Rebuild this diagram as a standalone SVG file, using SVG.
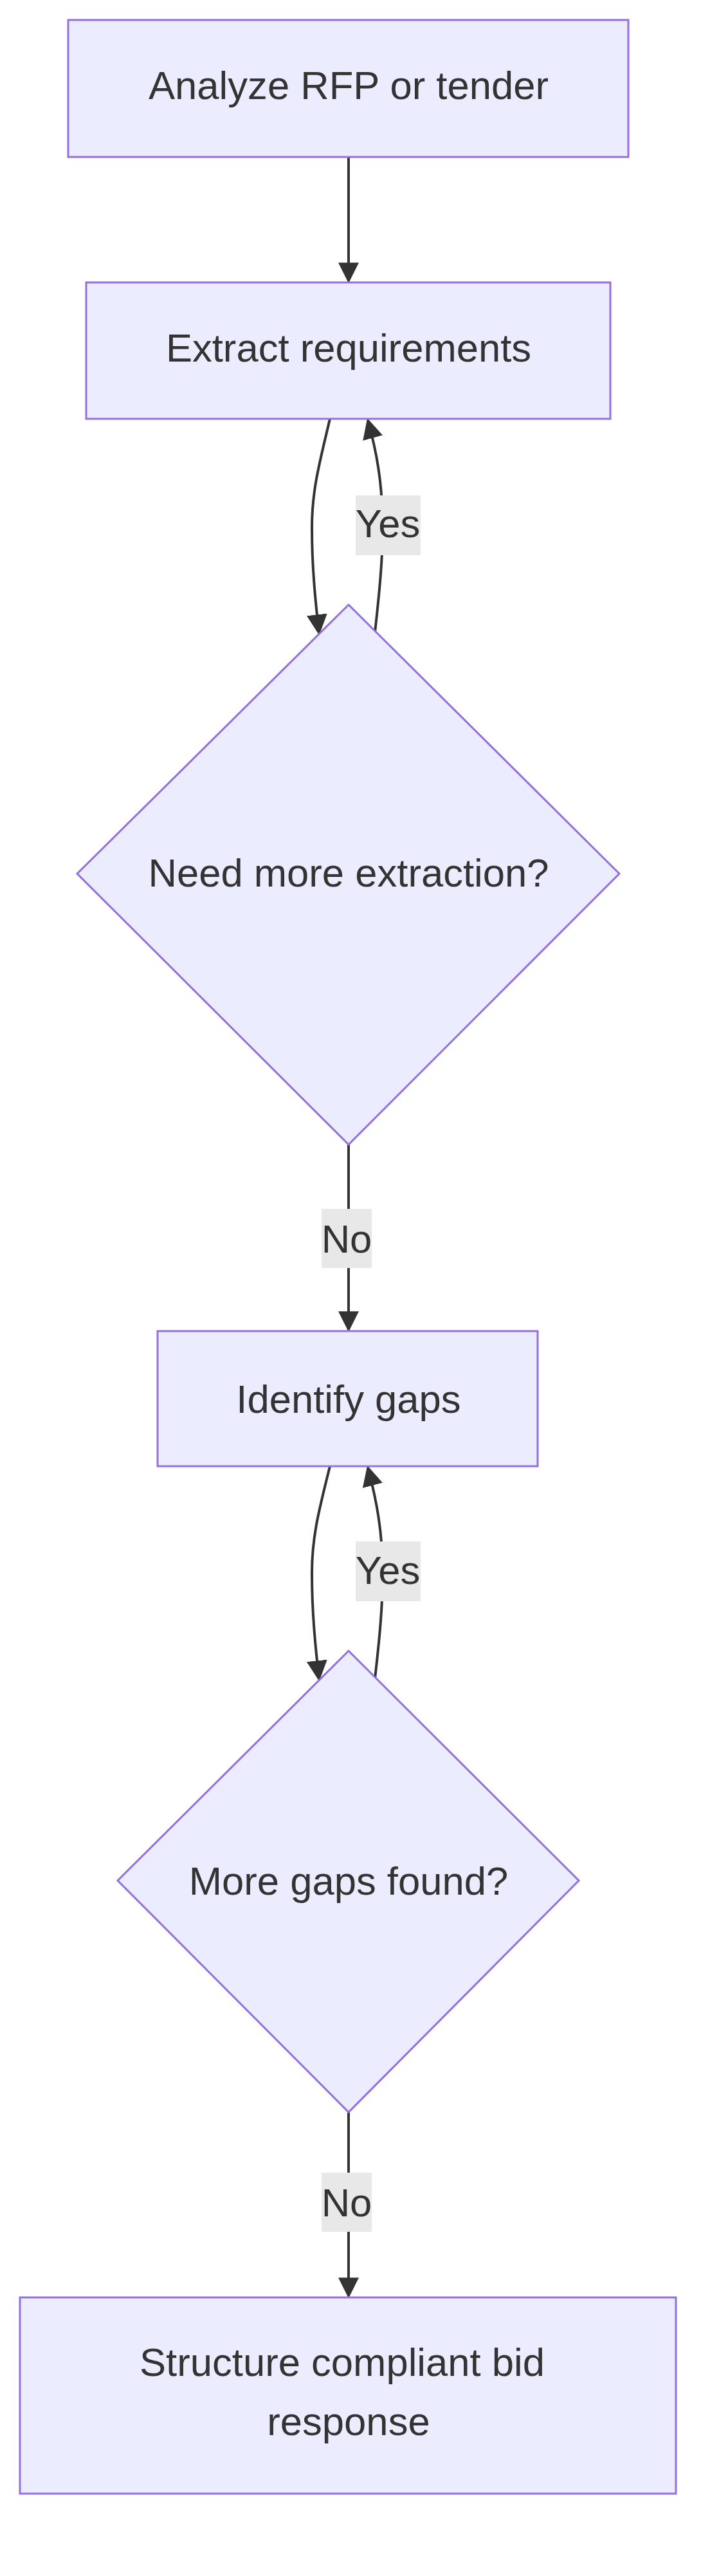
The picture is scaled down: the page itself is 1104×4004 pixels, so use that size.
<svg xmlns="http://www.w3.org/2000/svg" width="1104" height="4004" viewBox="0 0 1104 4004">
<style>
.n{fill:#ECECFF;stroke:#9370DB;stroke-width:3}
.t{font-family:"Liberation Sans",Arial,sans-serif;font-size:61.6px;fill:#333;text-anchor:middle;dominant-baseline:central}
.e{fill:none;stroke:#333;stroke-width:4}
.lb{fill:#e8e8e8}
</style>
<defs><marker id="a" viewBox="0 0 10 10" refX="9" refY="5" markerWidth="8" markerHeight="8" markerUnits="userSpaceOnUse" orient="auto"><path d="M0,0L10,5L0,10z" fill="#333"/></marker>
<marker id="ah" viewBox="0 0 10 10" refX="9" refY="5" markerWidth="8" markerHeight="8" orient="auto"><path d="M0,0L10,5L0,10z" fill="#333"/></marker></defs>
<g id="edges">
<path class="e" d="M542,244L542,437" marker-end="url(#ah)"/>
<path class="e" d="M513,651C498,715 485,760 485,820C485,880 490,930 496,984" marker-end="url(#ah)"/>
<path class="e" d="M583,983C590,920 595,870 595,820C595,750 585,700 572,653" marker-end="url(#ah)"/>
<path class="e" d="M542,1779L542,2067" marker-end="url(#ah)"/>
<path class="e" d="M513,2279C498,2340 485,2385 485,2445C485,2505 490,2555 496,2610" marker-end="url(#ah)"/>
<path class="e" d="M583,2609C590,2548 595,2498 595,2445C595,2380 585,2330 572,2281" marker-end="url(#ah)"/>
<path class="e" d="M542,3283L542,3569" marker-end="url(#ah)"/>
<rect class="lb" x="553" y="770" width="101" height="93"/><text class="t" x="603" y="813">Yes</text>
<rect class="lb" x="500" y="1879" width="78" height="92"/><text class="t" x="539" y="1925">No</text>
<rect class="lb" x="553" y="2396" width="101" height="93"/><text class="t" x="603" y="2440">Yes</text>
<rect class="lb" x="500" y="3377" width="78" height="92"/><text class="t" x="539" y="3423">No</text>
</g>
<g id="n1"><rect class="n" x="106" y="31" width="871" height="213"/><text class="t" x="542" y="132">Analyze RFP or tender</text></g>
<g id="n2"><rect class="n" x="134" y="439" width="815" height="212"/><text class="t" x="542" y="540">Extract requirements</text></g>
<g id="n3"><polygon class="n" points="542,940 963,1358 542,1779 120,1358"/><text class="t" x="542" y="1356">Need more extraction?</text></g>
<g id="n4"><rect class="n" x="245" y="2069" width="591" height="210"/><text class="t" x="542" y="2174">Identify gaps</text></g>
<g id="n5"><polygon class="n" points="542,2566 900,2923 542,3283 183,2923"/><text class="t" x="542" y="2923">More gaps found?</text></g>
<g id="n6"><rect class="n" x="31" y="3571" width="1020" height="305"/><text class="t" x="532" y="3671">Structure compliant bid</text><text class="t" x="542" y="3763">response</text></g>
</svg>
